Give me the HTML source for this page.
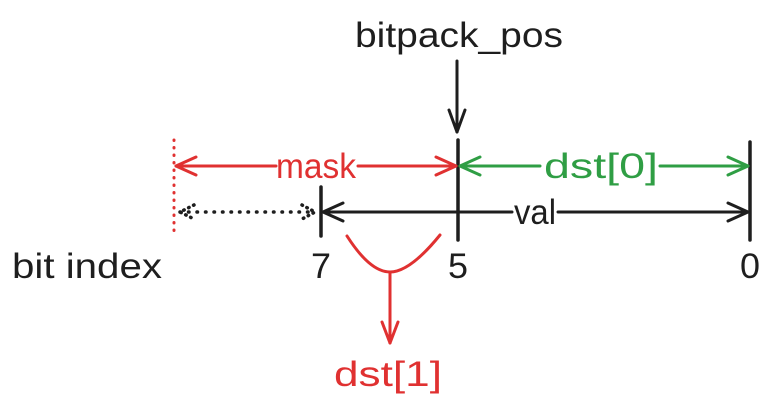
<!DOCTYPE html>
<html><head><meta charset="utf-8"><style>
html,body{margin:0;padding:0;background:#fff;}
svg{display:block;}
text{font-family:"Liberation Sans","DejaVu Sans",sans-serif;font-size:35px;}
</style></head><body>
<svg width="772" height="406" viewBox="0 0 772 406" xmlns="http://www.w3.org/2000/svg">
<rect width="772" height="406" fill="#fff"/>
<g fill="none" stroke-linecap="round" stroke-linejoin="round">
<path d="M457 61 L457 132" stroke="#1e1e1e" stroke-width="3"/>
<path d="M449 110 L457 132 L465 110" stroke="#1e1e1e" stroke-width="3"/>
<path d="M458 140 L458 240" stroke="#1e1e1e" stroke-width="3.5"/>
<path d="M321 187 L321 236" stroke="#1e1e1e" stroke-width="3.5"/>
<path d="M750 142 L750 240" stroke="#1e1e1e" stroke-width="3.5"/>
<path d="M174 140 L174 237" stroke="#e03131" stroke-width="3" stroke-dasharray="0.5 7"/>
<path d="M176 166 L276 166 M358 166 L456 166" stroke="#e03131" stroke-width="3"/>
<path d="M196 157 L176 166 L196 175 M436 157 L456 166 L436 175" stroke="#e03131" stroke-width="3"/>
<path d="M460 166 L540 166 M660 166 L748 166" stroke="#2f9e44" stroke-width="3"/>
<path d="M480 157 L460 166 L480 175 M728 157 L748 166 L728 175" stroke="#2f9e44" stroke-width="3"/>
<path d="M323 212 L512 212 M558 212 L748 212" stroke="#1e1e1e" stroke-width="3"/>
<path d="M343 203 L323 212 L343 221 M728 203 L748 212 L728 221" stroke="#1e1e1e" stroke-width="3"/>
<path d="M180 212 L315 212" stroke="#1e1e1e" stroke-width="3.5" stroke-dasharray="0.5 8"/>
<path d="M194 205 L180 212 L194 219 M302 205 L315 212 L302 219" stroke="#1e1e1e" stroke-width="3.5" stroke-dasharray="0.5 5"/>
<path d="M347 236 Q370 272 390 272 Q410 272 440 235" stroke="#e03131" stroke-width="3"/>
<path d="M390 272 L390 343" stroke="#e03131" stroke-width="3"/>
<path d="M382 322 L390 343 L398 322" stroke="#e03131" stroke-width="3"/>
</g>
<text x="355" y="47" textLength="208" lengthAdjust="spacingAndGlyphs" fill="#1e1e1e">bitpack_pos</text>
<text x="276" y="178" textLength="80" lengthAdjust="spacingAndGlyphs" fill="#e03131">mask</text>
<text x="544" y="178" textLength="114" lengthAdjust="spacingAndGlyphs" fill="#2f9e44">dst[0]</text>
<text x="514" y="224" textLength="42" lengthAdjust="spacingAndGlyphs" fill="#1e1e1e">val</text>
<text x="12" y="278" textLength="150" lengthAdjust="spacingAndGlyphs" fill="#1e1e1e">bit index</text>
<text x="311" y="278" textLength="20" lengthAdjust="spacingAndGlyphs" fill="#1e1e1e">7</text>
<text x="448" y="278" textLength="20" lengthAdjust="spacingAndGlyphs" fill="#1e1e1e">5</text>
<text x="740" y="278" textLength="20" lengthAdjust="spacingAndGlyphs" fill="#1e1e1e">0</text>
<text x="334" y="386" textLength="108" lengthAdjust="spacingAndGlyphs" fill="#e03131">dst[1]</text>
</svg>
</body></html>
